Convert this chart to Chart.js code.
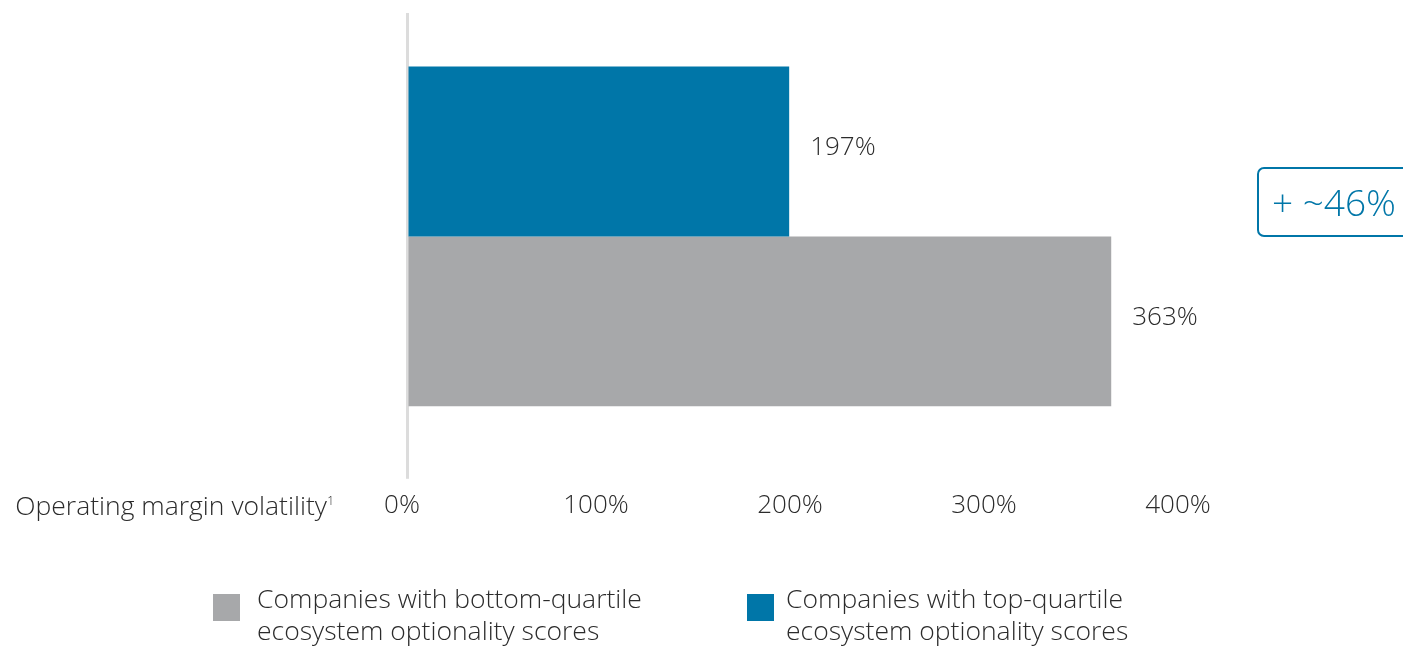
<!DOCTYPE html>
<html>
<head>
<meta charset="utf-8">
<script src="https://cdn.jsdelivr.net/npm/chart.js@4.4.1/dist/chart.umd.min.js"></script>
<style>
  body { margin: 0; background: #fff; font-family: 'Open Sans', sans-serif; font-weight: 300; color: #2b2b2b; }
  #wrap { position: relative; width: 1403px; height: 646px; overflow: hidden; }
  #chart { position: absolute; left: 0; top: 0; }
  .axis-title { position: absolute; right: 1076px; top: 487px; font-size: 26.5px; line-height: 36px; white-space: nowrap; }
  .axis-title sup { font-size: 12px; position: absolute; right: -7px; top: -4px; }
  .callout { position: absolute; left: 1257px; top: 167px; width: 170px; height: 66px; border: 2px solid #0076a8;
    border-radius: 7px; color: #0076a8; font-size: 37px; line-height: 66px; padding-left: 13px; box-sizing: content-box; }
  .legend-item { position: absolute; top: 582px; font-size: 26.5px; line-height: 32px; white-space: nowrap; }
  .legend-item .box { position: absolute; top: 12px; width: 27px; height: 27px; }
</style>
</head>
<body>
<div id="wrap">
  <canvas id="chart" width="1403" height="646"></canvas>
  <div class="axis-title">Operating margin volatility<sup>1</sup></div>
  <div class="callout">+ ~46%</div>
  <div id="legend"></div>
</div>
<script>
// data
const categories = ['Operating margin volatility'];
const seriesNames = [
  ['Companies with top-quartile', 'ecosystem optionality scores'],
  ['Companies with bottom-quartile', 'ecosystem optionality scores']
];
const topQuartile = [197];
const bottomQuartile = [363];
const tickValues = [0, 100, 200, 300, 400];

const BLUE = '#0076a8';
const GRAY = '#a7a8aa';
const FONT = "'Open Sans', sans-serif";

// value labels at the end of each bar
const valueLabels = {
  id: 'valueLabels',
  afterDatasetsDraw(chart) {
    const ctx = chart.ctx;
    ctx.save();
    ctx.font = '300 26px ' + FONT;
    ctx.fillStyle = '#2b2b2b';
    ctx.textBaseline = 'middle';
    chart.data.datasets.forEach((ds, i) => {
      chart.getDatasetMeta(i).data.forEach((bar, j) => {
        ctx.fillText(ds.data[j] + '%', bar.x + 21, bar.y - 4);
      });
    });
    ctx.restore();
  }
};

new Chart(document.getElementById('chart'), {
  type: 'bar',
  data: {
    labels: categories,
    datasets: [
      { label: seriesNames[0].join(' '), data: topQuartile, backgroundColor: BLUE },
      { label: seriesNames[1].join(' '), data: bottomQuartile, backgroundColor: GRAY }
    ]
  },
  options: {
    indexAxis: 'y',
    responsive: false,
    animation: false,
    categoryPercentage: 0.76,
    barPercentage: 1,
    layout: { padding: { left: 407, right: 220, top: 13, bottom: 114 } },
    plugins: { legend: { display: false }, tooltip: { enabled: false } },
    scales: {
      y: { display: false },
      x: {
        min: 0,
        max: 400,
        afterBuildTicks: (axis) => { axis.ticks = tickValues.map(v => ({ value: v })); },
        border: { display: false },
        grid: {
          drawOnChartArea: true,
          tickLength: 19,
          lineWidth: 3,
          color: (c) => c.tick && c.tick.value === 0 ? '#dcdcdc' : 'rgba(0,0,0,0)'
        },
        ticks: {
          padding: 11,
          labelOffset: -5,
          color: '#2b2b2b',
          font: { family: FONT, size: 26, weight: 300 },
          callback: (v) => v + '%'
        }
      }
    }
  },
  plugins: [valueLabels]
});

// legend built from the same series, bottom-quartile first like the original
const legend = document.getElementById('legend');
[[seriesNames[1], GRAY, 257, -44], [seriesNames[0], BLUE, 786, -39]].forEach(([name, color, left, boxLeft]) => {
  const item = document.createElement('div');
  item.classList.add('legend-item');
  item.style.left = left + 'px';
  item.innerHTML = '<span class="box" style="left:' + boxLeft + 'px;background:' + color + '"></span>' + name.join('<br>');
  legend.appendChild(item);
});
</script>
</body>
</html>
